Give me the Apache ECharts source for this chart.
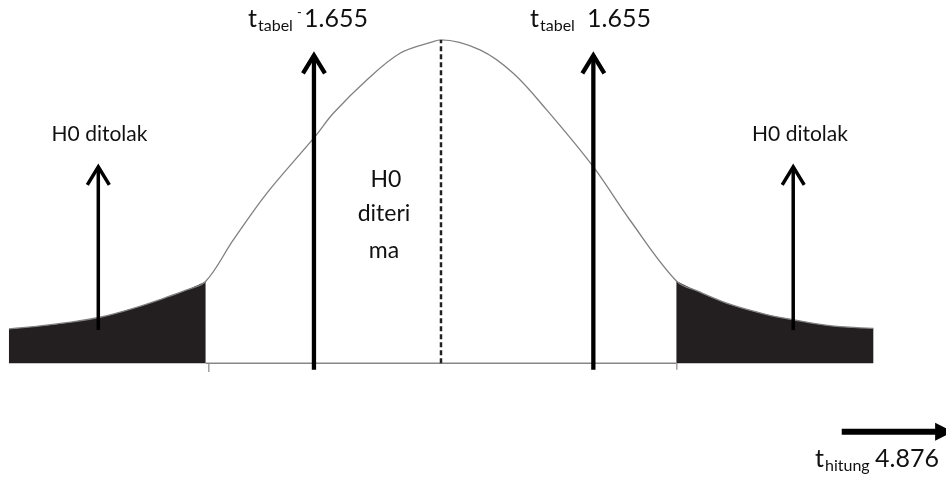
<!DOCTYPE html>
<html><head><meta charset="utf-8">
<script src="https://cdn.jsdelivr.net/npm/echarts@6/dist/echarts.min.js"></script>
<style>html,body{margin:0;padding:0;background:#fff}#c{width:946px;height:481px}</style>
</head><body><div id="c"></div>
<script>
// curve (t value, density-like height)
const leftTail = [[-3.037,0.0424],[-2.868,0.0452],[-2.631,0.0502],[-2.397,0.0569],[-2.163,0.0680],[-1.928,0.0817],[-1.788,0.0907],[-1.655,0.1012]];
const middle = [[-1.655,0.1012],[-1.460,0.1527],[-1.225,0.2105],[-0.886,0.2807],[-0.757,0.3096],[-0.522,0.3509],[-0.288,0.3840],[-0.054,0.3984],[0,0.4005],[0.274,0.3881],[0.508,0.3592],[0.743,0.3138],[1.070,0.2435],[1.328,0.1774],[1.655,0.1019]];
const rightTail = [[1.655,0.1019],[1.813,0.0886],[2.045,0.0721],[2.282,0.0606],[2.467,0.0541],[2.748,0.0461],[3.039,0.0432]];
const criticalT = [-1.655, 1.655];
const tickX = [-1.632, 1.658];
const peak = [0, 0.4005];
// arrows: [x, yStart, yEnd]
const bigArrows = [[-0.893,-0.008,0.384],[1.071,-0.008,0.384]];
const smallArrows = [[-2.409,0.041,0.2456],[2.476,0.041,0.2456]];
// horizontal arrow: [xStart, xEnd, y]
const hitungArrow = [[2.817,3.6,-0.0849]];
const tabelValueNeg = '1.655';
const tabelValuePos = '1.655';
const hitungValue = '4.876';
const rejectText = 'H0 ditolak';
const acceptLines = ['H0','diteri','ma'];

const FF = 'Lato, "Open Sans", sans-serif';
function txt(x, y, text, fs, align) {
  return {type:'text', x:x, y:y, silent:true, style:{text:text, fontSize:fs, fontFamily:FF, fill:'#111', align:align||'left', verticalAlign:'middle'}};
}
const chart = echarts.init(document.getElementById('c'), null, {renderer:'canvas'});
const fullCurve = leftTail.concat(middle.slice(1), rightTail.slice(1));

function arrowItem(lw, hw, hh) {
  return function(params, api) {
    const p0 = api.coord([api.value(0), api.value(1)]);
    const p1 = api.coord([api.value(0), api.value(2)]);
    return {type:'group', children:[
      {type:'line', shape:{x1:p0[0], y1:p0[1], x2:p1[0], y2:p1[1]+2}, style:{stroke:'#000', lineWidth:lw}},
      {type:'polyline', shape:{points:[[p1[0]-hw, p1[1]+hh],[p1[0], p1[1]+2],[p1[0]+hw, p1[1]+hh]]}, style:{stroke:'#000', lineWidth:lw, fill:null, lineJoin:'miter'}}
    ]};
  };
}
const SM = 0.35;
chart.setOption({
  animation:false,
  backgroundColor:'#fff',
  grid:{left:0, right:0, top:0, bottom:0},
  xAxis:{type:'value', min:-3.1, max:3.55, show:false},
  yAxis:{type:'value', min:-0.146, max:0.45, show:false},
  series:[
    {type:'line', data:leftTail, smooth:SM, symbol:'none', lineStyle:{width:0}, areaStyle:{color:'#231f20', opacity:1}, z:2},
    {type:'line', data:rightTail, smooth:SM, symbol:'none', lineStyle:{width:0}, areaStyle:{color:'#231f20', opacity:1}, z:2},
    {type:'line', data:fullCurve, smooth:SM, symbol:'none', lineStyle:{color:'#808080', width:1.3}, z:3},
    {type:'line', data:[[criticalT[0],0],[criticalT[1],0]], symbol:'none', lineStyle:{color:'#888', width:1.5}, z:3},
    {type:'line', data:[[tickX[0],0],[tickX[0],-0.011]], symbol:'none', lineStyle:{color:'#888', width:1.2}, z:3},
    {type:'line', data:[[tickX[1],0],[tickX[1],-0.008]], symbol:'none', lineStyle:{color:'#888', width:1.2}, z:3},
    {type:'line', data:[[peak[0],0],peak], symbol:'none', lineStyle:{color:'#222', width:2.5, type:[5,3]}, z:3},
    {type:'custom', data:bigArrows, renderItem:arrowItem(4.3, 11, 20), z:5},
    {type:'custom', data:smallArrows, renderItem:arrowItem(3.5, 11, 20), z:5},
    {type:'custom', data:hitungArrow, z:5, renderItem:function(params, api){
      const p0 = api.coord([api.value(0), api.value(2)]);
      const p1 = api.coord([api.value(1), api.value(2)]);
      return {type:'group', children:[
        {type:'line', shape:{x1:p0[0], y1:p0[1], x2:p1[0]-15, y2:p1[1]}, style:{stroke:'#000', lineWidth:6}},
        {type:'polygon', shape:{points:[[p1[0]-18,p1[1]-9],[p1[0],p1[1]],[p1[0]-18,p1[1]+9]]}, style:{fill:'#000'}}
      ]};
    }}
  ],
  graphic:[
    txt(248, 18.7, 't', 25), txt(258, 25.6, 'tabel', 16), txt(297, 12.5, '-', 13), txt(304, 18.7, tabelValueNeg, 25),
    txt(530, 18.7, 't', 25), txt(540, 25.6, 'tabel', 16), txt(587, 18.7, tabelValuePos, 25),
    txt(99.5, 134, rejectText, 21, 'center'), txt(800, 134, rejectText, 21, 'center'),
    txt(386, 179.3, acceptLines[0], 23, 'center'), txt(384, 213.3, acceptLines[1], 23, 'center'), txt(384, 250.9, acceptLines[2], 23, 'center'),
    txt(815, 458.7, 't', 25), txt(825, 465.6, 'hitung', 16), txt(875, 458.7, hitungValue, 25)
  ]
});
</script></body></html>
